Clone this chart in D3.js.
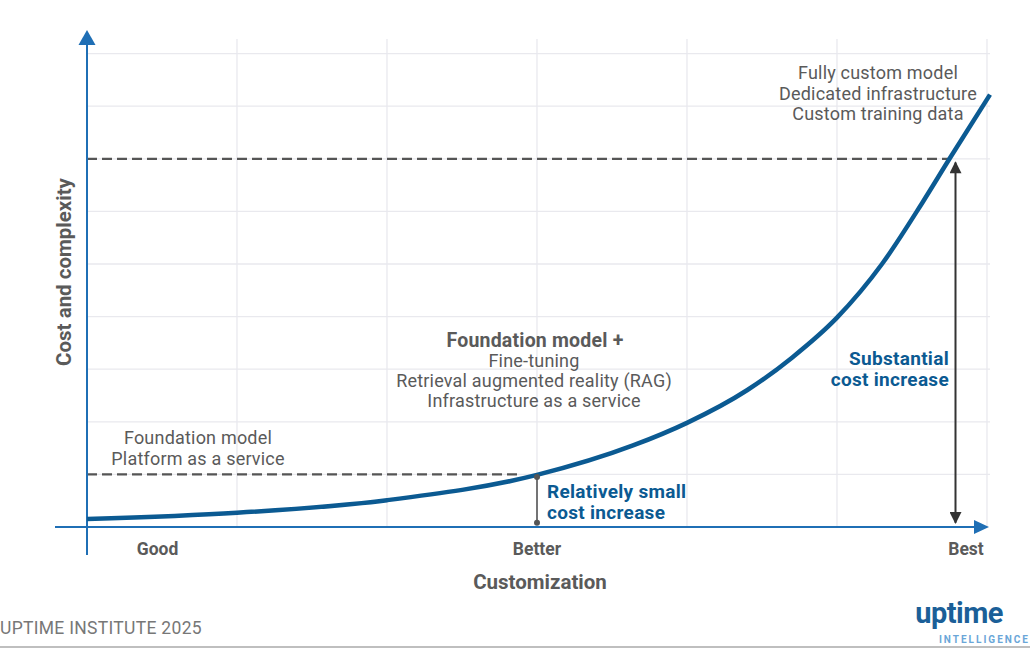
<!DOCTYPE html>
<html>
<head>
<meta charset="utf-8">
<script src="https://cdn.jsdelivr.net/npm/d3@7"></script>
<style>
  html, body { margin: 0; padding: 0; background: #fff; }
  svg { display: block; font-family: Roboto, "Noto Sans", sans-serif; }
</style>
</head>
<body>
<svg id="chart" width="1030" height="653"></svg>
<script>
// ---- data ----
const curveX = [0, 1, 2, 3, 3.64, 4, 4.4, 4.7, 5, 5.3, 5.57, 5.75, 6.02];
const curveY = [0.15, 0.27, 0.51, 0.99, 1.55, 1.98, 2.6, 3.22, 3.98, 5.0, 6.17, 7.0, 8.22];
const tierLabels = ["Good", "Better", "Best"];
const tierX = [0.47, 3.0, 5.86];
const xGrid = [0, 1, 2, 3, 4, 5, 6];
const yGrid = [0, 1, 2, 3, 4, 5, 6, 7, 8, 9];
const refLevels = [1, 7];          // dashed reference levels
const refEndX = [2.9, 5.75];       // where dashed lines meet the curve
const smallArrowX = 3.0;
const bigArrowX = 5.79;
const noteFull = ["Fully custom model", "Dedicated infrastructure", "Custom training data"];
const notePlus = ["Fine-tuning", "Retrieval augmented reality (RAG)", "Infrastructure as a service"];
const noteBase = ["Foundation model", "Platform as a service"];

const svg = d3.select("#chart");
const x = d3.scaleLinear().domain([0, 6]).range([87, 987]);
const y = d3.scaleLinear().domain([0, 9]).range([527, 53.6]);

const gray = "#5a5a5a", blue = "#0b5a92", axisBlue = "#1f6fb5";

// defs
const defs = svg.append("defs");
defs.append("marker").attr("id", "ahBig").attr("viewBox", "0 0 10 10")
  .attr("refX", 9).attr("refY", 5).attr("markerWidth", 14).attr("markerHeight", 12)
  .attr("markerUnits", "userSpaceOnUse").attr("orient", "auto-start-reverse")
  .append("path").attr("d", "M0,0 L10,5 L0,10 z").attr("fill", "#333");

// grid
svg.append("g").selectAll("line").data(yGrid.slice(1)).join("line")
  .attr("x1", x(0)).attr("x2", 990).attr("y1", d => y(d)).attr("y2", d => y(d))
  .attr("stroke", "#e9e9ee").attr("stroke-width", 1.3);
svg.append("g").selectAll("line").data(xGrid.slice(1)).join("line")
  .attr("x1", d => x(d)).attr("x2", d => x(d)).attr("y1", 39).attr("y2", y(0))
  .attr("stroke", "#e9e9ee").attr("stroke-width", 1.3);

// dashed reference lines
svg.append("g").selectAll("line").data(refLevels).join("line")
  .attr("x1", x(0)).attr("x2", (d, i) => x(refEndX[i]))
  .attr("y1", d => y(d)).attr("y2", d => y(d))
  .attr("stroke", "#555").attr("stroke-width", 2.2).attr("stroke-dasharray", "10,5");

// axes
svg.append("line").attr("x1", 55).attr("x2", 975).attr("y1", y(0)).attr("y2", y(0))
  .attr("stroke", axisBlue).attr("stroke-width", 2);
svg.append("path").attr("d", `M974,${y(0) - 7} L989,${y(0)} L974,${y(0) + 7} z`).attr("fill", axisBlue);
svg.append("line").attr("x1", x(0)).attr("x2", x(0)).attr("y1", 44).attr("y2", 555)
  .attr("stroke", axisBlue).attr("stroke-width", 2);
svg.append("path").attr("d", `M${x(0) - 8.5},45 L${x(0)},30 L${x(0) + 8.5},45 z`).attr("fill", axisBlue);

// curve
const pts = curveX.map((d, i) => [d, curveY[i]]);
svg.append("path").datum(pts)
  .attr("d", d3.line().x(d => x(d[0])).y(d => y(d[1])).curve(d3.curveMonotoneX))
  .attr("fill", "none").attr("stroke", blue).attr("stroke-width", 4.5).attr("stroke-linecap", "butt");

// small increase marker
svg.append("line").attr("x1", x(smallArrowX)).attr("x2", x(smallArrowX))
  .attr("y1", y(0.95)).attr("y2", y(0.08)).attr("stroke", "#555").attr("stroke-width", 1.6);
svg.append("g").selectAll("circle").data([0.95, 0.08]).join("circle")
  .attr("cx", x(smallArrowX)).attr("cy", d => y(d)).attr("r", 3).attr("fill", "#555");

// big arrow
svg.append("line").attr("x1", x(bigArrowX)).attr("x2", x(bigArrowX))
  .attr("y1", y(6.93)).attr("y2", y(0.08))
  .attr("stroke", "#333").attr("stroke-width", 2)
  .attr("marker-start", "url(#ahBig)").attr("marker-end", "url(#ahBig)");

// tier labels
svg.append("g").selectAll("text").data(tierLabels).join("text")
  .attr("x", (d, i) => x(tierX[i])).attr("y", 555)
  .attr("text-anchor", "middle").attr("font-size", 17.5).attr("font-weight", 700)
  .attr("fill", gray).text(d => d);

// axis titles
svg.append("text").attr("x", 540).attr("y", 589).attr("text-anchor", "middle")
  .attr("font-size", 20.5).attr("font-weight", 700).attr("fill", gray).text("Customization");
svg.append("text").attr("transform", "translate(71,272) rotate(-90)").attr("text-anchor", "middle")
  .attr("font-size", 20.5).attr("font-weight", 700).attr("fill", gray).text("Cost and complexity");

// notes
function lines(arr, cx, y0, dy, opts) {
  const t = svg.append("text").attr("text-anchor", opts.anchor || "middle")
    .attr("font-size", opts.size).attr("font-weight", opts.weight || 400).attr("fill", opts.fill)
    .attr("letter-spacing", opts.ls || 0);
  arr.forEach((s, i) => t.append("tspan").attr("x", cx).attr("y", y0 + i * dy).text(s));
}
lines(noteFull, 878, 79, 20.5, { size: 18, fill: gray, ls: 0.2 });
svg.append("text").attr("x", 535).attr("y", 347).attr("text-anchor", "middle")
  .attr("font-size", 19.5).attr("font-weight", 700).attr("fill", gray).attr("letter-spacing", 0.2).text("Foundation model +");
lines(notePlus, 534, 367, 20, { size: 18, fill: gray, ls: 0.2 });
lines(noteBase, 198, 444, 20.5, { size: 18, fill: gray, ls: 0.2 });
lines(["Relatively small", "cost increase"], 547, 498, 21, { size: 19, weight: 700, fill: blue, anchor: "start", ls: 0.3 });
lines(["Substantial", "cost increase"], 949, 365, 21, { size: 19, weight: 700, fill: blue, anchor: "end", ls: 0.3 });

// footer
svg.append("text").attr("x", 0).attr("y", 634).attr("font-size", 17.5).attr("fill", "#777")
  .attr("letter-spacing", 0.3).text("UPTIME INSTITUTE 2025");
svg.append("line").attr("x1", 0).attr("x2", 1030).attr("y1", 647).attr("y2", 647)
  .attr("stroke", "#aaa").attr("stroke-width", 1.5);
svg.append("text").attr("x", 1003).attr("y", 623).attr("text-anchor", "end")
  .attr("font-size", 29).attr("font-weight", 700).attr("fill", "#1b5f98").attr("letter-spacing", -0.5).text("uptime");
svg.append("text").attr("x", 1030).attr("y", 643).attr("text-anchor", "end")
  .attr("font-size", 10).attr("font-weight", 700).attr("fill", "#6aa6d8").attr("letter-spacing", 2).text("INTELLIGENCE");
</script>
</body>
</html>
